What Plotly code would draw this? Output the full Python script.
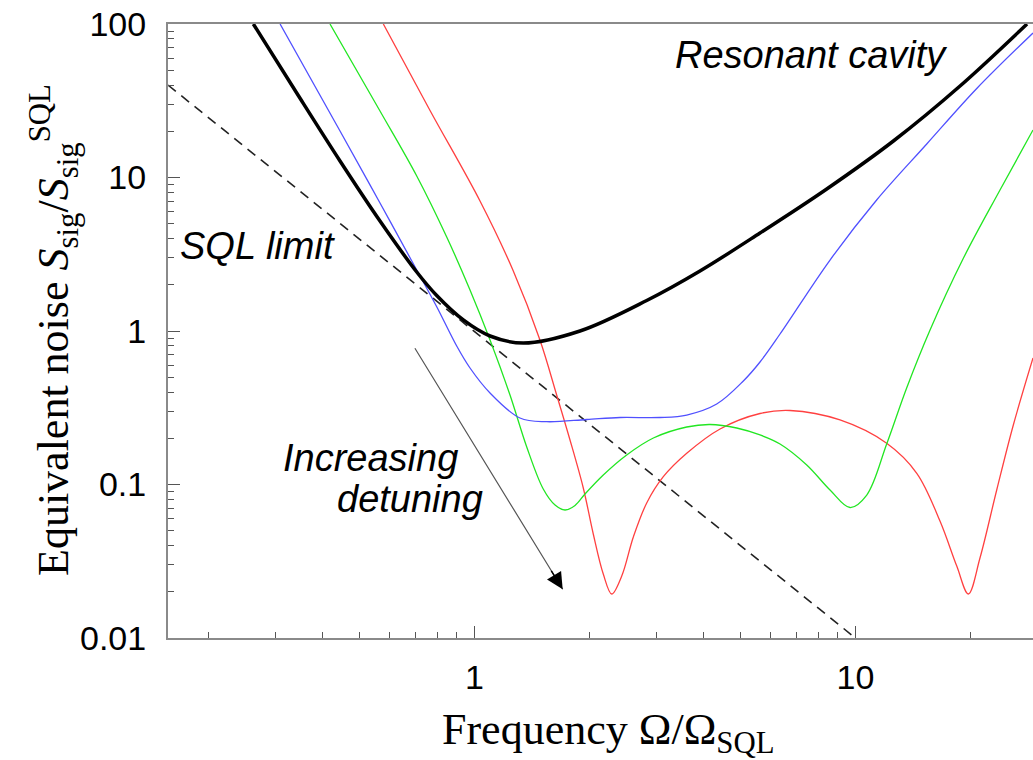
import plotly.graph_objects as go
import math

# ---- data (x: Omega/Omega_SQL, y: S_sig/S_sig^SQL) ----
freq_black = [0.2629, 0.3417, 0.4439, 0.5652, 0.7057, 0.7963, 0.9352, 1.099, 1.344, 1.893,
              2.833, 3.909, 5.618, 8.41, 12.58, 18.82, 28.21]
noise_black = [100, 35.5, 12.81, 5.206, 2.423, 1.703, 1.18, 0.9277, 0.835, 1.0,
               1.580, 2.460, 4.348, 8.418, 17.29, 39.46, 100]

freq_blue = [0.309, 0.4439, 0.5652, 0.7057, 0.7963, 0.8986, 0.9738, 1.099, 1.317, 1.548,
             1.971, 2.411, 3.07, 3.608, 4.325, 5.08, 5.618, 6.341, 8.578, 11.37, 15.39,
             20.82, 29.25]
noise_blue = [100, 20.09, 6.823, 2.497, 1.44, 0.7985, 0.5741, 0.3946, 0.2712, 0.2565,
              0.2651, 0.2732, 0.2732, 0.2836, 0.3345, 0.4725, 0.6281, 0.956, 2.900, 7.135, 16.53,
              38.0, 87.4]

freq_green = [0.4178, 0.5652, 0.7057, 0.8459, 0.9738, 1.099, 1.240, 1.372, 1.516, 1.628,
              1.729, 1.837, 1.951, 2.179, 2.51, 2.949, 3.608, 4.153, 4.88, 5.618, 6.341,
              7.452, 8.578, 9.679, 10.71, 12.08, 13.63, 15.7, 19.2, 23.96, 29.25]
noise_green = [100, 27.12, 10.23, 4.097, 1.849, 0.8738, 0.3829, 0.1755, 0.0935, 0.0735,
               0.0682, 0.0730, 0.0867, 0.1153, 0.1557, 0.2009, 0.2369, 0.246, 0.2334, 0.2102, 0.1836,
               0.134, 0.0921, 0.0708, 0.0854, 0.1836, 0.4253, 1.015, 2.975, 8.29, 20.39]

freq_red = [0.5767, 0.7647, 1.0344, 1.265, 1.486, 1.644, 1.782, 1.931, 2.051, 2.179,
            2.293, 2.436, 2.613, 2.833, 3.132, 3.608, 4.413, 5.618, 6.735, 9.111, 12.08,
            14.49, 16.67, 18.45, 19.79, 21.23, 23.49, 25.97, 29.25]
noise_red = [100, 27.33, 7.030, 2.460, 0.8738, 0.3829, 0.195, 0.0949, 0.0476, 0.0261,
             0.01935, 0.02534, 0.0455, 0.0758, 0.1124, 0.1597, 0.23, 0.2901, 0.3035, 0.2632, 0.1855,
             0.1183, 0.0578, 0.0294, 0.01935, 0.0332, 0.0921, 0.2441, 0.667]

freq_sql = [0.157, 10.0]
noise_sql = [40.0, 0.01]

y_tick_vals = [0.01, 0.1, 1, 10, 100]
y_tick_text = ["0.01", "0.1", "1", "10", "100"]
x_tick_vals = [1, 10]
x_tick_text = ["1", "10"]

# ---- figure ----
fig = go.Figure()
fig.add_trace(go.Scatter(x=freq_sql, y=noise_sql, mode="lines",
                         line=dict(color="#222222", width=1.6, dash="10px,7px")))
fig.add_trace(go.Scatter(x=freq_red, y=noise_red, mode="lines",
                         line=dict(color="#ff4040", width=1.3, shape="spline", smoothing=1.0)))
fig.add_trace(go.Scatter(x=freq_green, y=noise_green, mode="lines",
                         line=dict(color="#22e622", width=1.3, shape="spline", smoothing=1.0)))
fig.add_trace(go.Scatter(x=freq_blue, y=noise_blue, mode="lines",
                         line=dict(color="#5050ff", width=1.3, shape="spline", smoothing=1.0)))
fig.add_trace(go.Scatter(x=freq_black, y=noise_black, mode="lines",
                         line=dict(color="#000000", width=3.5, shape="spline", smoothing=1.0)))

W, H = 1033, 760
L, R, T, B = 168, 0, 24, 122
pw, ph = W - L - R, H - T - B

def px(xp):
    return (xp - L) / pw

def py(yp):
    return (H - B - yp) / ph

minor_y = [m * 10 ** e for e in range(-2, 2) for m in range(2, 10)]
minor_x = [m * 10 ** e for e in range(-1, 2) for m in range(1, 10)]
minor_x = [v for v in minor_x if v not in (1, 10)]

tick_font = dict(family="Liberation Sans, Arial, sans-serif", size=34, color="#000")
fig.update_xaxes(type="log", range=[-0.8042, 1.4661], automargin=False,
                 showline=True, linecolor="#8a8a8a", linewidth=2, mirror=True,
                 ticks="inside", ticklen=12, tickwidth=1.3, tickcolor="#555",
                 tickmode="array", tickvals=x_tick_vals, ticktext=x_tick_text,
                 tickfont=tick_font, showgrid=False, zeroline=False, ticklabelstandoff=8,
                 minor=dict(tickmode="array", tickvals=minor_x, ticks="inside",
                            ticklen=6, tickwidth=1, tickcolor="#555", showgrid=False))
fig.update_yaxes(type="log", range=[-2, 2], automargin=False,
                 showline=True, linecolor="#8a8a8a", linewidth=2, mirror=False,
                 ticks="inside", ticklen=12, tickwidth=1.3, tickcolor="#555",
                 tickmode="array", tickvals=y_tick_vals, ticktext=y_tick_text,
                 tickfont=tick_font, showgrid=False, zeroline=False, ticklabelstandoff=13,
                 minor=dict(tickmode="array", tickvals=minor_y, ticks="inside",
                            ticklen=6, tickwidth=1, tickcolor="#555", showgrid=False))

label_font = dict(family="Liberation Sans, Arial, sans-serif", size=38, color="#000")
serif_font = dict(family="Liberation Serif, Times New Roman, serif", size=44, color="#000")

annotations = [
    dict(text="<i>Resonant cavity</i>", x=px(673), y=py(55), xanchor="left", yanchor="middle",
         font=label_font),
    dict(text="<i>SQL limit</i>", x=px(178), y=py(246), xanchor="left", yanchor="middle",
         font=label_font),
    dict(text="<i>Increasing</i>", x=px(281), y=py(458), xanchor="left", yanchor="middle",
         font=label_font),
    dict(text="<i>detuning</i>", x=px(335), y=py(499), xanchor="left", yanchor="middle",
         font=label_font),
    dict(text="Frequency Ω/Ω<sub>SQL</sub>", x=px(608), y=py(732), xanchor="center",
         yanchor="middle", font=serif_font),
    dict(text="Equivalent noise <i>S</i><sub>sig</sub>/<i>S</i><sub>sig</sub><sup>SQL</sup>",
         x=px(54), y=py(330), xanchor="center", yanchor="middle", textangle=-90,
         font=serif_font),
]
for a in annotations:
    a.update(xref="paper", yref="paper", showarrow=False)

tip_x = math.log10(1.705)
tip_y = -1.6827
annotations.append(dict(x=tip_x, y=tip_y, xref="x", yref="y", ax=-148.7, ay=-242.6,
                        axref="pixel", ayref="pixel", showarrow=True, text="",
                        arrowhead=0, arrowwidth=1.2, arrowcolor="#555"))
annotations.append(dict(x=tip_x, y=tip_y, xref="x", yref="y", ax=-12.3, ay=-20.0,
                        showarrow=True, text="", arrowhead=2, arrowsize=2.2,
                        arrowwidth=1.5, arrowcolor="#000"))

fig.update_layout(width=W, height=H, margin=dict(l=L, r=R, t=T, b=B, pad=0, autoexpand=False),
                  paper_bgcolor="white", plot_bgcolor="white", showlegend=False,
                  annotations=annotations)

fig.write_html("out.html", config={"displayModeBar": False},
               post_script="document.body.style.margin='0';document.body.style.overflow='hidden';")
